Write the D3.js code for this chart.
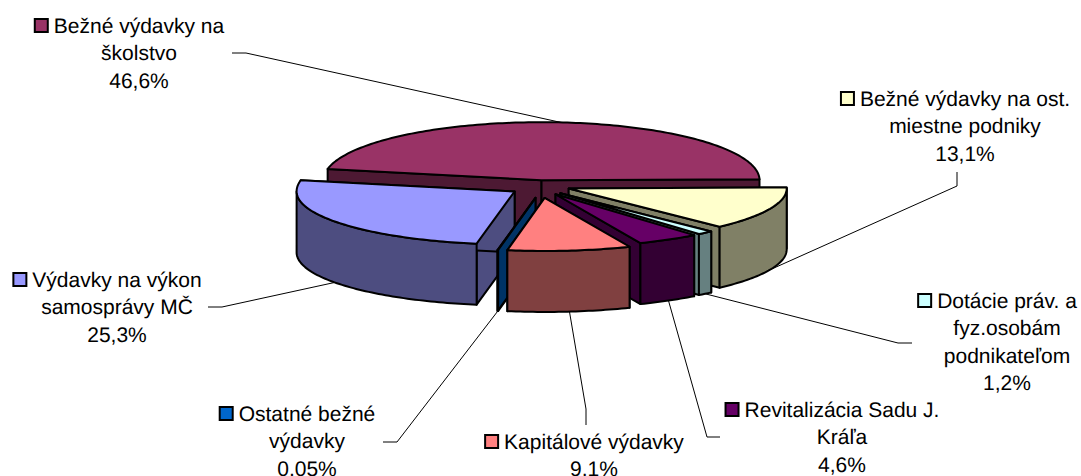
<!DOCTYPE html>
<html>
<head>
<meta charset="utf-8">
<script src="https://cdn.jsdelivr.net/npm/d3@7"></script>
<style>
html,body{margin:0;padding:0;background:#fff}
svg{display:block}
text{font-family:"Liberation Sans",Arial,sans-serif;font-size:21px;fill:#000;text-anchor:middle;text-rendering:geometricPrecision}
</style>
</head>
<body>
<svg id="chart" width="1081" height="476"></svg>
<script>
// ---- data (pie order, clockwise from 3 o'clock) ----
const categories = ["Bežné výdavky na ost. miestne podniky","Dotácie práv. a fyz.osobám podnikateľom","Revitalizácia Sadu J. Kráľa","Kapitálové výdavky","Ostatné bežné výdavky","Výdavky na výkon samosprávy MČ","Bežné výdavky na školstvo"];
const values = [13.1,1.2,4.6,9.1,0.05,25.3,46.6];
const percentLabels = ["13,1%","1,2%","4,6%","9,1%","0,05%","25,3%","46,6%"];
const labelLines = [
  ["Bežné výdavky na ost.","miestne podniky"],
  ["Dotácie práv. a","fyz.osobám","podnikateľom"],
  ["Revitalizácia Sadu J.","Kráľa"],
  ["Kapitálové výdavky"],
  ["Ostatné bežné","výdavky"],
  ["Výdavky na výkon","samosprávy MČ"],
  ["Bežné výdavky na","školstvo"]
];
// ---- styling / layout ----
const topColors  = ["#ffffcc","#ccffff","#660066","#ff8080","#0066cc","#9999ff","#993366"];
const sideColors = ["#808066","#668080","#330033","#804040","#003366","#4d4d80","#4d1933"];
const explode    = [30,29,28,32,32,32,6];
const drawOrder  = [6,5,4,0,1,2,3];
const labelX     = [965,1007,842,594,307,117,139];
const labelY     = [106,308,417,449,421,287,33];
const lineGap    = 27.4;
const elbowA     = [[957,186],[898,343],[707,437],[586,409],[397,442],[222,307],[246,53]];
const elbowB     = [[957,172],[912,343],[720,437],[586,425],[383,442],[208,307],[232,53]];

const cx=541, cy=183, rx=218, ryFront=53, ryBack=58, depth=61, explodeYK=0.47;
const rotation=-1*Math.PI/180;

const svg=d3.select("#chart");
const arcs=d3.pie().sort(null).value(d=>d).startAngle(rotation).endAngle(rotation+2*Math.PI)(values);

const scaleX=d3.scaleLinear().domain([-1,1]).range([-rx,rx]);
const scaleYF=d3.scaleLinear().domain([0,1]).range([0,ryFront]);
const scaleYB=d3.scaleLinear().domain([-1,0]).range([-ryBack,0]);
function rim(a,ox,oy,dz){
  const s=Math.sin(a);
  return [ox+scaleX(Math.cos(a)), oy+(s>=0?scaleYF(s):scaleYB(s))+dz];
}
const line=d3.line();
const geom=arcs.map((d,i)=>{
  const mid=(d.startAngle+d.endAngle)/2;
  return {i,a0:d.startAngle,a1:d.endAngle,mid,
    ox:cx+explode[i]*Math.cos(mid), oy:cy+explode[i]*explodeYK*Math.sin(mid)};
});
function arcPts(g,a0,a1,dz){
  const n=Math.max(2,Math.ceil((a1-a0)/0.02));
  return d3.range(n+1).map(k=>rim(a0+(a1-a0)*k/n,g.ox,g.oy,dz));
}
// leader lines (below the pie)
const leaders=svg.append("g").attr("fill","none").attr("stroke","#000").attr("stroke-width",1);
geom.forEach(g=>{
  const back=Math.sin(g.mid)<0;
  const anchor=rim(g.mid,g.ox,g.oy,back?0:depth);
  leaders.append("path").attr("d",line([anchor,elbowA[g.i],elbowB[g.i]]));
});
// pie
const pie=svg.append("g").attr("stroke","#000").attr("stroke-width",2).attr("stroke-linejoin","round");
drawOrder.forEach(i=>{
  const g=geom[i], c=[g.ox,g.oy], cb=[g.ox,g.oy+depth];
  const g1=pie.append("g");
  [g.a0,g.a1].forEach(a=>{
    const p=rim(a,g.ox,g.oy,0), q=rim(a,g.ox,g.oy,depth);
    g1.append("path").attr("fill",sideColors[i]).attr("d",line([c,p,q,cb])+"Z");
  });
  const lo=Math.max(g.a0,0), hi=Math.min(g.a1,Math.PI);
  if(hi>lo){
    const up=arcPts(g,lo,hi,0), dn=arcPts(g,lo,hi,depth).reverse();
    g1.append("path").attr("fill",sideColors[i]).attr("d",line(up.concat(dn))+"Z");
  }
  g1.append("path").attr("fill",topColors[i]).attr("d",line([c].concat(arcPts(g,g.a0,g.a1,0)))+"Z");
});
// labels
const labels=svg.append("g");
geom.forEach(({i})=>{
  const lines=labelLines[i].concat([percentLabels[i]]);
  let first;
  lines.forEach((t,k)=>{
    const el=labels.append("text").attr("x",labelX[i]).attr("y",labelY[i]+k*lineGap).text(t);
    if(k===0) first=el;
  });
  const w=first.node().getComputedTextLength();
  const left=labelX[i]-w/2;
  labels.append("rect").attr("x",left-19).attr("y",labelY[i]-14).attr("width",13).attr("height",13)
    .attr("fill",topColors[i]).attr("stroke","#000").attr("stroke-width",2);
});
</script>
</body>
</html>
